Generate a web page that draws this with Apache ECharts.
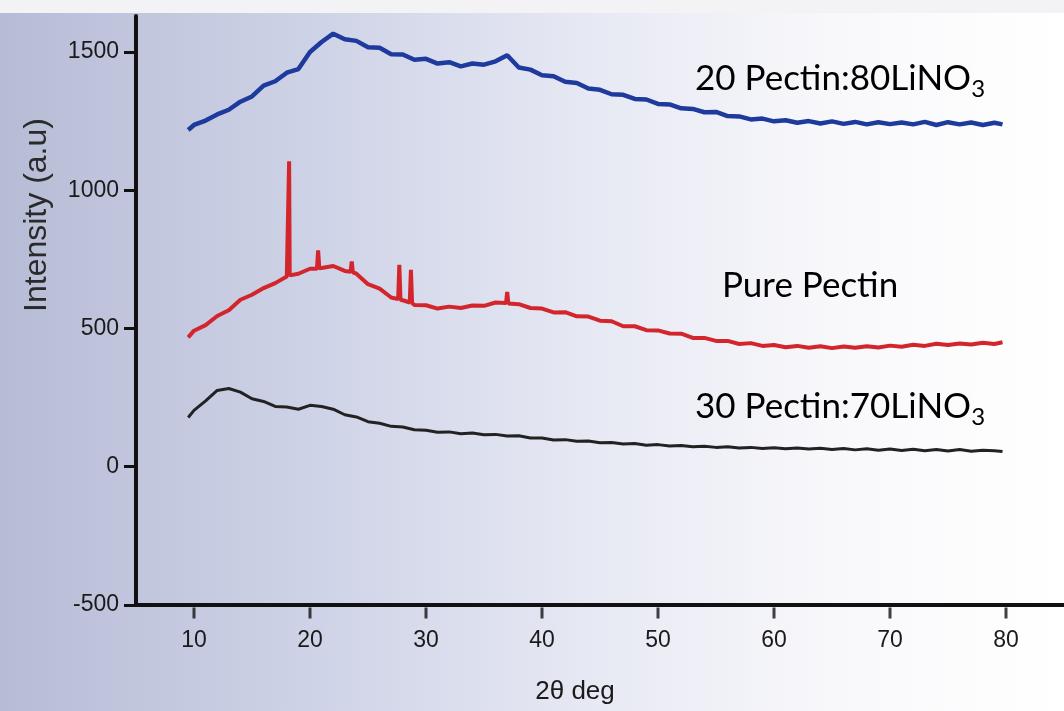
<!DOCTYPE html>
<html>
<head>
<meta charset="utf-8">
<title>XRD</title>
<script src="https://cdn.jsdelivr.net/npm/echarts/dist/echarts.min.js"></script>
<style>
	html, body { margin: 0; padding: 0; }
	#main { width: 1064px; height: 711px; }
</style>
</head>
<body>
<div id="main"></div>
<script>
// 2theta grid (deg)
var theta = [
	9.5, 10, 11, 12, 13, 14, 15, 16, 17, 18,
	19, 20, 21, 22, 23, 24, 25, 26, 27, 28,
	29, 30, 31, 32, 33, 34, 35, 36, 37, 38,
	39, 40, 41, 42, 43, 44, 45, 46, 47, 48,
	49, 50, 51, 52, 53, 54, 55, 56, 57, 58,
	59, 60, 61, 62, 63, 64, 65, 66, 67, 68,
	69, 70, 71, 72, 73, 74, 75, 76, 77, 78,
	79, 79.7
];
// 20 Pectin:80LiNO3
var blueY = [
	1218, 1236, 1252, 1274, 1291, 1320, 1339, 1378, 1394, 1425,
	1438, 1500, 1536, 1566, 1546, 1540, 1517, 1515, 1492, 1491,
	1472, 1475, 1458, 1463, 1448, 1458, 1454, 1466, 1488, 1444,
	1436, 1416, 1412, 1392, 1388, 1368, 1363, 1347, 1345, 1330,
	1328, 1312, 1310, 1296, 1294, 1282, 1283, 1268, 1267, 1256,
	1259, 1249, 1253, 1244, 1250, 1241, 1249, 1240, 1247, 1238,
	1246, 1239, 1245, 1238, 1247, 1236, 1246, 1238, 1245, 1236,
	1244, 1238
];
// Pure Pectin
var redY = [
	468, 492, 512, 545, 566, 604, 622, 646, 664, 688,
	698, 716, 719, 726, 708, 698, 660, 644, 612, 602,
	585, 584, 572, 579, 574, 583, 582, 594, 589, 588,
	574, 572, 558, 559, 544, 543, 528, 526, 508, 508,
	494, 493, 482, 481, 466, 466, 455, 455, 444, 447,
	437, 440, 432, 437, 430, 436, 429, 435, 430, 436,
	431, 438, 434, 441, 437, 445, 440, 446, 442, 448,
	444, 450
];
// sharp reflections of pure pectin [2theta, intensity]
var redPeaks = [
	[18.15, 690], [18.2, 1105], [18.25, 692],
	[20.6, 716], [20.7, 782], [20.8, 718],
	[23.5, 705], [23.6, 742], [23.7, 703],
	[27.6, 606], [27.7, 730], [27.8, 604],
	[28.6, 594], [28.7, 712], [28.8, 592],
	[36.9, 592], [37.0, 632], [37.1, 590]
];
// 30 Pectin:70LiNO3
var blackY = [
	178, 204, 238, 276, 283, 270, 246, 236, 218, 216,
	208, 222, 218, 208, 188, 180, 163, 157, 146, 144,
	134, 132, 125, 126, 119, 122, 116, 117, 111, 112,
	104, 104, 97, 98, 92, 93, 87, 88, 82, 84,
	78, 80, 75, 77, 72, 74, 70, 72, 68, 70,
	66, 69, 65, 68, 64, 67, 62, 66, 61, 65,
	60, 64, 59, 63, 58, 62, 57, 62, 56, 60,
	58, 55
];
var xTicks = [10, 20, 30, 40, 50, 60, 70, 80];
var yMin = -500;

function pairs(ys) {
	var out = [];
	for (var i = 0; i < theta.length; i++) {
		out.push([theta[i], ys[i]]);
	}
	return out;
}
var redData = pairs(redY).concat(redPeaks).sort(function(a, b) {
	return a[0] - b[0];
});
// x tick marks hang off the bottom axis line
var tickData = xTicks.map(function(v) {
	return [v, yMin];
});

var numFont = '"Liberation Sans", Arial, sans-serif';
var noteRich = {
	m: { fontFamily: 'Lato', fontSize: 35, lineHeight: 30, verticalAlign: 'top', color: '#111' },
	s: { fontFamily: 'Lato', fontSize: 24, lineHeight: 40, verticalAlign: 'bottom', color: '#111' }
};

var myChart = echarts.init(document.getElementById('main'));
var option = {
	animation: false,
	backgroundColor: new echarts.graphic.LinearGradient(0, 0, 1, 0, [
		{ offset: 0, color: '#b7bcd6' },
		{ offset: 0.3, color: '#cfd3e7' },
		{ offset: 0.55, color: '#e6e8f3' },
		{ offset: 0.78, color: '#f8f8fb' },
		{ offset: 1, color: '#ffffff' }
	]),
	grid: {
		left: 136,
		right: 0,
		top: 16,
		bottom: 106
	},
	xAxis: {
		type: 'value',
		min: 5,
		max: 85,
		splitLine: { show: false },
		axisLine: { onZero: false, lineStyle: { color: '#111', width: 4 } },
		axisTick: { show: false },
		axisLabel: {
			customValues: xTicks,
			margin: 24,
			color: '#1a1a1a',
			fontSize: 23,
			fontFamily: numFont
		}
	},
	yAxis: {
		type: 'value',
		min: yMin,
		max: 1630,
		interval: 500,
		splitLine: { show: false },
		axisLine: { onZero: false, lineStyle: { color: '#111', width: 4 } },
		axisTick: { show: true, length: 12, lineStyle: { color: '#111', width: 3 } },
		axisLabel: {
			margin: 17,
			color: '#1a1a1a',
			fontSize: 23,
			fontFamily: numFont,
			showMaxLabel: false,
			formatter: function(v) {
				return String(v);
			}
		}
	},
	series: [{
		name: '20 Pectin:80LiNO3',
		type: 'line',
		data: pairs(blueY),
		showSymbol: false,
		lineStyle: { color: '#1d3a9c', width: 4.5 }
	}, {
		name: 'Pure Pectin',
		type: 'line',
		data: redData,
		showSymbol: false,
		lineStyle: { color: '#d3262c', width: 4 }
	}, {
		name: '30 Pectin:70LiNO3',
		type: 'line',
		data: pairs(blackY),
		showSymbol: false,
		lineStyle: { color: '#222', width: 3 }
	}, {
		name: 'xticks',
		type: 'scatter',
		data: tickData,
		symbol: 'rect',
		symbolSize: [3, 11],
		symbolOffset: [0, 8],
		itemStyle: { color: '#111' },
		clip: false,
		silent: true,
		z: 5
	}],
	graphic: [{
		type: 'rect',
		shape: { x: 0, y: 0, width: 1064, height: 13 },
		style: { fill: '#f3f3f6' },
		z: -1
	}, {
		type: 'text',
		x: 37,
		y: 215,
		rotation: Math.PI / 2,
		style: {
			text: 'Intensity (a.u)',
			font: '32px "Liberation Sans", Arial, sans-serif',
			fill: '#2a2a2a',
			align: 'center',
			verticalAlign: 'middle'
		}
	}, {
		type: 'text',
		x: 575,
		y: 692,
		style: {
			text: '2\u03b8 deg',
			font: '26px "Liberation Sans", Arial, sans-serif',
			fill: '#1a1a1a',
			align: 'center',
			verticalAlign: 'middle'
		}
	}, {
		type: 'text',
		x: 695,
		y: 61,
		style: { text: '{m|20 Pectin:80LiNO}{s|3}', rich: noteRich }
	}, {
		type: 'text',
		x: 722,
		y: 268,
		style: { text: '{m|Pure Pectin}', rich: noteRich }
	}, {
		type: 'text',
		x: 695,
		y: 389,
		style: { text: '{m|30 Pectin:70LiNO}{s|3}', rich: noteRich }
	}]
};
myChart.setOption(option);
</script>
</body>
</html>
